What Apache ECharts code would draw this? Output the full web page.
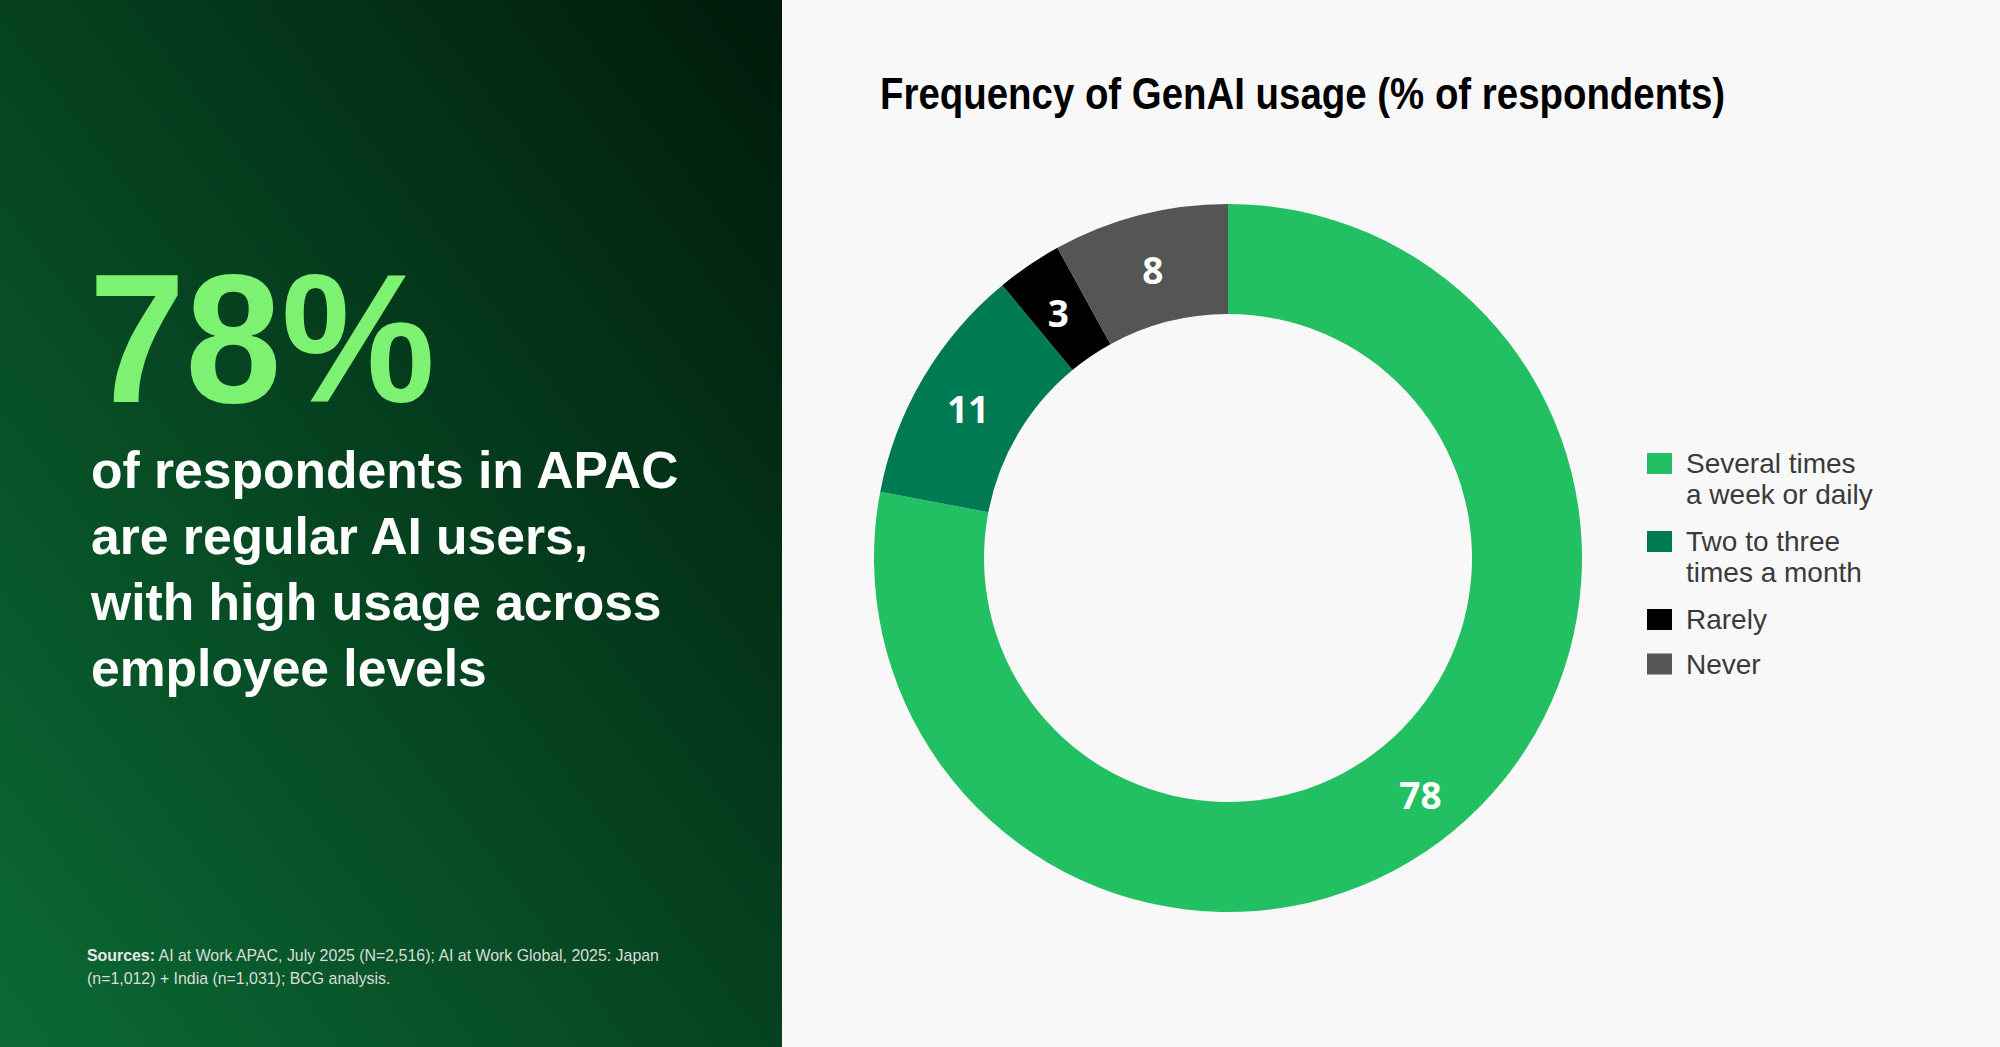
<!DOCTYPE html>
<html>
<head>
<meta charset="utf-8">
<script src="https://cdn.jsdelivr.net/npm/echarts@6/dist/echarts.min.js"></script>
<style>
html,body{margin:0;padding:0;background:#f8f8f8;}
#chart{width:2000px;height:1047px;}
</style>
</head>
<body>
<div id="chart"></div>
<script>
// ---- data ----
const categories = ['Several times a week or daily', 'Two to three times a month', 'Rarely', 'Never'];
const legendLabels = ['Several times\na week or daily', 'Two to three\ntimes a month', 'Rarely', 'Never'];
const values = [78, 11, 3, 8];
const colors = ['#22c063', '#007a52', '#000000', '#555555'];
const chartTitle = 'Frequency of GenAI usage (% of respondents)';
const headline = '78%';
const bodyLines = ['of respondents in APAC', 'are regular AI users,', 'with high usage across', 'employee levels'];
const sourceLines = ['{b|Sources:} AI at Work APAC, July 2025 (N=2,516); AI at Work Global, 2025: Japan', '(n=1,012) + India (n=1,031); BCG analysis.'];

const chart = echarts.init(document.getElementById('chart'), null, {renderer: 'svg', width: 2000, height: 1047});

const FONT = '"Liberation Sans", Arial, sans-serif';

const graphics = [
  {
    type: 'rect', x: 0, y: 0, z: 0,
    shape: {x: 0, y: 0, width: 782, height: 1047},
    style: {
      fill: new echarts.graphic.LinearGradient(0, 1, 1, 0, [
        {offset: 0, color: '#0b6a34'},
        {offset: 1, color: '#001a0b'}
      ])
    },
    silent: true
  },
  {
    type: 'text', x: 89, y: 338, scaleX: 0.94, z: 2,
    style: {text: headline, fill: '#7df172', font: 'bold 184px ' + FONT, align: 'left', verticalAlign: 'middle'}
  },
  {
    type: 'text', x: 880, y: 94, scaleX: 0.873, z: 2,
    style: {text: chartTitle, fill: '#000000', font: 'bold 44px ' + FONT, align: 'left', verticalAlign: 'middle'}
  },
  {
    type: 'text', x: 87, y: 967, z: 2,
    style: {
      text: sourceLines.join('\n'), fill: '#dcdcdc', font: '15.9px ' + FONT, lineHeight: 23,
      align: 'left', verticalAlign: 'middle',
      rich: {b: {fontWeight: 'bold', fontSize: 15.9, fontFamily: FONT, fill: '#e8e8e8', lineHeight: 23}}
    }
  }
];
const bodyBaselines = [488, 554, 620, 686];
bodyLines.forEach((t, i) => {
  graphics.push({
    type: 'text', x: 91, y: bodyBaselines[i] - 0.3465 * 51.6, z: 2,
    style: {text: t, fill: '#ffffff', font: 'bold 51.6px ' + FONT, align: 'left', verticalAlign: 'middle'}
  });
});

// legend: one component per item; a leading empty line keeps the icon level with the first text line
const legendIconCenters = [463.5, 541.5, 619.5, 664];
const LH = 31;
const legends = categories.map((name, i) => {
  const twoLine = legendLabels[i].indexOf('\n') >= 0;
  return {
    orient: 'vertical',
    left: 1647,
    top: twoLine ? legendIconCenters[i] - 1.5 * LH : legendIconCenters[i] - 0.5 * LH,
    padding: 0,
    itemWidth: 25,
    itemHeight: 21,
    itemGap: 0,
    selectedMode: false,
    icon: 'rect',
    data: [name],
    formatter: (n) => {
      const lbl = legendLabels[categories.indexOf(n)];
      return lbl.indexOf('\n') >= 0 ? '\n' + lbl : lbl;
    },
    textStyle: {
      fontSize: 28, fontFamily: FONT, color: '#3a3a3a',
      lineHeight: LH,
      padding: [0, 0, 0, 9]
    }
  };
});

const option = {
  backgroundColor: '#f8f8f8',
  animation: false,
  color: colors,
  legend: legends,
  graphic: graphics,
  series: [{
    type: 'pie',
    center: [1228, 558],
    radius: [244, 354],
    startAngle: 90,
    clockwise: true,
    avoidLabelOverlap: false,
    silent: true,
    label: {
      show: true,
      position: 'inside',
      formatter: '{v|{c}}',
      rich: {
        v: {
          color: '#ffffff',
          fontSize: 37,
          fontWeight: 'bold',
          fontFamily: '"Noto Sans", sans-serif',
          padding: [8, 0, 0, 0]
        }
      }
    },
    labelLine: {show: false},
    itemStyle: {borderWidth: 0},
    emphasis: {disabled: true},
    data: categories.map((c, i) => ({name: c, value: values[i], itemStyle: {color: colors[i]}}))
  }]
};
chart.setOption(option);
</script>
</body>
</html>
